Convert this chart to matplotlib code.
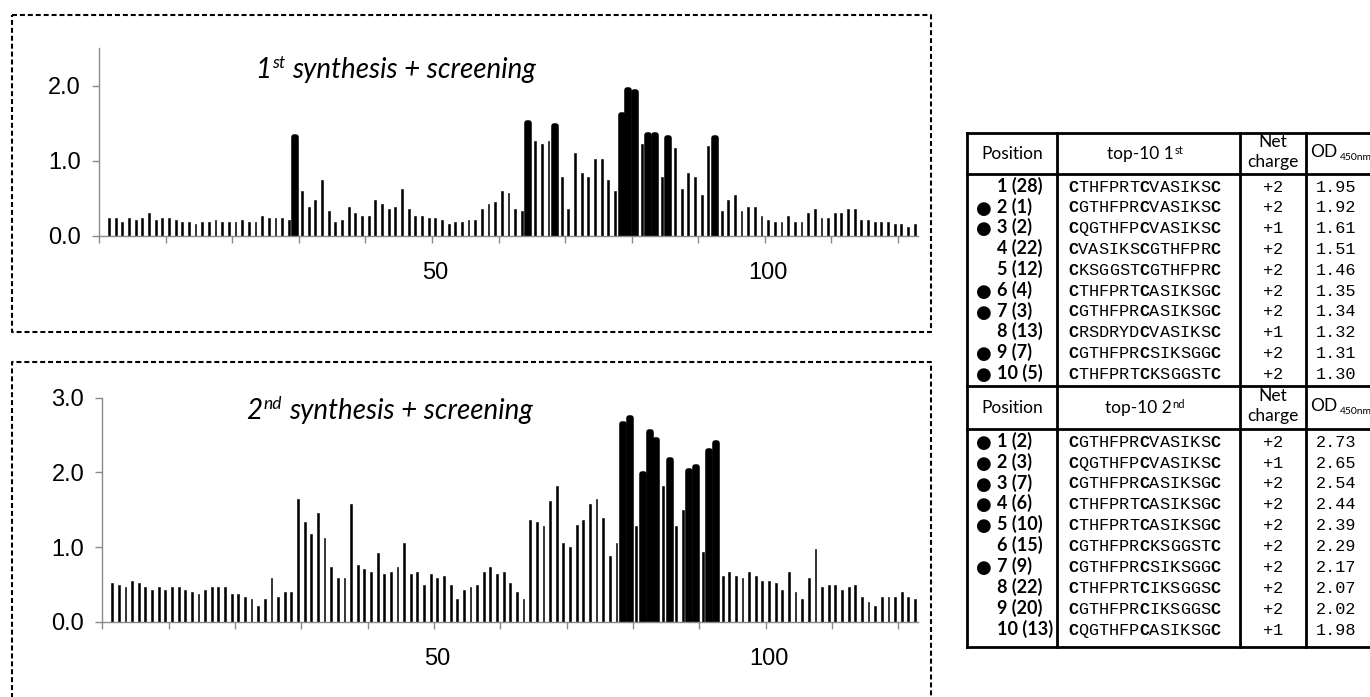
import numpy as np
import matplotlib.pyplot as plt

plt.rcParams['font.family'] = 'Liberation Sans'

# ---------------- data ----------------
position = list(range(1, 123))

od_1st = [0.24, 0.24, 0.18, 0.24, 0.21, 0.24, 0.30, 0.21, 0.24, 0.24,
          0.21, 0.18, 0.18, 0.16, 0.18, 0.18, 0.21, 0.18, 0.18, 0.18,
          0.21, 0.18, 0.18, 0.27, 0.24, 0.24, 0.24, 0.21, 1.32, 0.60,
          0.39, 0.48, 0.75, 0.33, 0.18, 0.21, 0.39, 0.30, 0.27, 0.27,
          0.48, 0.42, 0.36, 0.39, 0.63, 0.36, 0.27, 0.27, 0.24, 0.24,
          0.21, 0.16, 0.18, 0.18, 0.21, 0.21, 0.36, 0.42, 0.45, 0.60,
          0.57, 0.36, 0.33, 1.51, 1.26, 1.23, 1.26, 1.46, 0.78, 0.36,
          1.11, 0.84, 0.78, 1.02, 1.02, 0.75, 0.60, 1.61, 1.95, 1.92,
          1.23, 1.35, 1.34, 0.78, 1.31, 1.17, 0.63, 0.84, 0.78, 0.54,
          1.20, 1.30, 0.33, 0.48, 0.54, 0.33, 0.39, 0.39, 0.27, 0.21,
          0.18, 0.18, 0.27, 0.18, 0.18, 0.30, 0.36, 0.24, 0.24, 0.30,
          0.30, 0.36, 0.36, 0.21, 0.21, 0.18, 0.18, 0.18, 0.16, 0.16,
          0.12, 0.16]

od_2nd = [0.52, 0.49, 0.46, 0.55, 0.52, 0.46, 0.42, 0.46, 0.42, 0.46,
          0.46, 0.42, 0.40, 0.37, 0.42, 0.46, 0.46, 0.46, 0.37, 0.37,
          0.33, 0.30, 0.21, 0.30, 0.58, 0.33, 0.40, 0.40, 1.64, 1.33,
          1.18, 1.46, 1.12, 0.73, 0.58, 0.58, 1.58, 0.76, 0.70, 0.67,
          0.92, 0.64, 0.67, 0.73, 1.06, 0.64, 0.67, 0.49, 0.64, 0.58,
          0.61, 0.49, 0.30, 0.42, 0.46, 0.49, 0.67, 0.73, 0.64, 0.67,
          0.52, 0.40, 0.30, 1.36, 1.33, 1.28, 1.61, 1.82, 1.06, 1.00,
          1.30, 1.36, 1.58, 1.64, 1.39, 0.88, 1.06, 2.65, 2.73, 1.28,
          1.98, 2.54, 2.44, 1.82, 2.17, 1.28, 1.49, 2.02, 2.07, 0.94,
          2.29, 2.39, 0.61, 0.67, 0.61, 0.58, 0.67, 0.61, 0.55, 0.55,
          0.52, 0.42, 0.67, 0.40, 0.30, 0.58, 0.97, 0.46, 0.49, 0.49,
          0.42, 0.46, 0.49, 0.33, 0.27, 0.21, 0.33, 0.33, 0.33, 0.40,
          0.33, 0.30]

top10_pos_1st = [29, 64, 68, 78, 79, 80, 82, 83, 85, 92]
top10_pos_2nd = [78, 79, 81, 82, 83, 85, 88, 89, 91, 92]

rank_1st = ["1 (28)", "2 (1)", "3 (2)", "4 (22)", "5 (12)",
            "6 (4)", "7 (3)", "8 (13)", "9 (7)", "10 (5)"]
dot_1st = [False, True, True, False, False, True, True, False, True, True]
seq_1st = ["CTHFPRTCVASIKSC", "CGTHFPRCVASIKSC", "CQGTHFPCVASIKSC",
           "CVASIKSCGTHFPRC", "CKSGGSTCGTHFPRC", "CTHFPRTCASIKSGC",
           "CGTHFPRCASIKSGC", "CRSDRYDCVASIKSC", "CGTHFPRCSIKSGGC",
           "CTHFPRTCKSGGSTC"]
charge_1st = ["+2", "+2", "+1", "+2", "+2", "+2", "+2", "+1", "+2", "+2"]
odtab_1st = ["1.95", "1.92", "1.61", "1.51", "1.46",
             "1.35", "1.34", "1.32", "1.31", "1.30"]

rank_2nd = ["1 (2)", "2 (3)", "3 (7)", "4 (6)", "5 (10)",
            "6 (15)", "7 (9)", "8 (22)", "9 (20)", "10 (13)"]
dot_2nd = [True, True, True, True, True, False, True, False, False, False]
seq_2nd = ["CGTHFPRCVASIKSC", "CQGTHFPCVASIKSC", "CGTHFPRCASIKSGC",
           "CTHFPRTCASIKSGC", "CTHFPRTCASIKSGC", "CGTHFPRCKSGGSTC",
           "CGTHFPRCSIKSGGC", "CTHFPRTCIKSGGSC", "CGTHFPRCIKSGGSC",
           "CQGTHFPCASIKSGC"]
charge_2nd = ["+2", "+1", "+2", "+2", "+2", "+2", "+2", "+2", "+2", "+1"]
odtab_2nd = ["2.73", "2.65", "2.54", "2.44", "2.39",
             "2.29", "2.17", "2.07", "2.02", "1.98"]

# ---------------- figure ----------------
W, H = 1370, 697
fig = plt.figure(figsize=(W / 100, H / 100), dpi=100)
gray = '#8a8a8a'

# overlay in pixel coordinates for boxes and table
ov = fig.add_axes([0, 0, 1, 1])
ov.set_xlim(0, W)
ov.set_ylim(H, 0)
ov.axis('off')
renderer = fig.canvas.get_renderer()


def px_rect(l, t, r, b):
    return [l / W, 1 - b / H, (r - l) / W, (b - t) / H]


def panel(rect, values, thick, ymax, yticks):
    ax = fig.add_axes(rect)
    ax.set_facecolor('none')
    thin_x = [p for p in position if p not in thick]
    ax.bar(thin_x, [values[p - 1] for p in thin_x], width=0.28,
           color='black', edgecolor='black', linewidth=0.4)
    ax.bar(thick, [values[p - 1] for p in thick], width=0.3, color='black',
           edgecolor='black', linewidth=4, joinstyle='round')
    ax.set_xlim(-0.5, 122.5)
    ax.set_ylim(0, ymax)
    ax.set_xticks(np.arange(-0.5, 121, 10))
    ax.set_xticklabels([])
    ax.set_xticks([50, 100], minor=True)
    ax.set_xticklabels(['50', '100'], minor=True)
    ax.tick_params(axis='x', which='minor', length=0, pad=19, labelsize=17)
    ax.tick_params(axis='x', which='major', length=5, width=1, color=gray)
    ax.set_yticks(yticks)
    ax.set_yticklabels([f'{v:.1f}' for v in yticks])
    ax.tick_params(axis='y', length=5, width=1, color=gray, pad=8, labelsize=17)
    for s in ['top', 'right']:
        ax.spines[s].set_visible(False)
    for s in ['left', 'bottom']:
        ax.spines[s].set_color(gray)
        ax.spines[s].set_linewidth(1)
    return ax


def rich(x, y, parts, ha='left', **kw):
    # parts: (text, size, raise_px, gap_px)
    items, cur = [], 0
    for s, size, dy, gap in parts:
        cur += gap
        t = ov.text(0, y - dy, s, fontsize=size, va='baseline', ha='left', **kw)
        items.append((t, cur))
        cur += t.get_window_extent(renderer).width
    x0 = x - cur / 2 if ha == 'center' else x
    for t, off in items:
        t.set_x(x0 + off)


ax1 = panel(px_rect(99, 48.3, 918, 236), od_1st, top10_pos_1st, 2.5, [0, 1, 2])
ax2 = panel(px_rect(102.3, 397.7, 918.3, 621.7), od_2nd, top10_pos_2nd, 3.0, [0, 1, 2, 3])

title_kw = dict(family='Lato', style='italic', color='black')
rich(255, 78, [("1", 20, 0, 0), ("st", 12.5, 10, 1),
               ("synthesis + screening", 20, 0, 7)], **title_kw)
rich(246, 419, [("2", 20, 0, 0), ("nd", 12.5, 10, 1),
                ("synthesis + screening", 20, 0, 7)], **title_kw)

# dashed boxes
dash = dict(color='black', lw=1.5, linestyle=(0, (2.4, 1.4)))
ov.plot([12, 931, 931, 12, 12], [15, 15, 332, 332, 15], **dash)
ov.plot([12, 12, 931, 931], [H + 5, 362, 362, H + 5], **dash)

# ---------------- table ----------------
tl = dict(color='black', lw=2.0, solid_capstyle='projecting')
col_x = [967, 1057, 1240, 1306]
y_top, y_h1, y_mid, y_h2, y_bot = 133, 174, 386, 429, 647
for yy in [y_top, y_h1, y_mid, y_h2, y_bot]:
    ov.plot([col_x[0], W + 5], [yy, yy], **tl)
for xx in col_x:
    ov.plot([xx, xx], [y_top, y_bot], **tl)

head_kw = dict(family='Lato', color='black')
mono = 'Liberation Mono'
mono_size = 12.2
char_w = 0.6 * mono_size * 100 / 72


def header(base, second):
    ov.text(1012, base, "Position", fontsize=12.5, ha='center', va='baseline', **head_kw)
    rich(1145, base, [("top-10 " + second[0], 12.5, 0, 0), (second[1], 8, 5, 0.5)],
         ha='center', **head_kw)
    ov.text(1273, base - 12, "Net", fontsize=12.5, ha='center', va='baseline', **head_kw)
    ov.text(1273, base + 8, "charge", fontsize=12.5, ha='center', va='baseline', **head_kw)
    rich(1310, base - 2, [("OD", 12.5, 0, 0), ("450nm", 7.5, -3, 3)], **head_kw)


def rows(y0, dy, ranks, dots, seqs, charges, ods):
    for i in range(len(ranks)):
        yb = y0 + i * dy + 5
        ov.text(997, yb, ranks[i], fontsize=13, fontweight='bold', ha='left',
                va='baseline', **head_kw)
        if dots[i]:
            ov.text(984, yb + 1, "\u25cf", fontsize=13, ha='center', va='baseline',
                    family='DejaVu Sans', color='black')
        for j, ch in enumerate(seqs[i]):
            ov.text(1068 + (j + 0.5) * char_w, yb, ch, fontsize=mono_size,
                    family=mono, fontweight='bold' if ch == 'C' else 'normal',
                    ha='center', va='baseline', color='black')
        ov.text(1273, yb, charges[i], fontsize=mono_size, family=mono,
                ha='center', va='baseline', color='black')
        ov.text(1316, yb, ods[i], fontsize=mono_size, family=mono,
                ha='left', va='baseline', color='black')


header(159, ("1", "st"))
rows(186.7, 20.8, rank_1st, dot_1st, seq_1st, charge_1st, odtab_1st)
header(413, ("2", "nd"))
rows(441.7, 20.9, rank_2nd, dot_2nd, seq_2nd, charge_2nd, odtab_2nd)

fig.savefig('out.png', dpi=100)
